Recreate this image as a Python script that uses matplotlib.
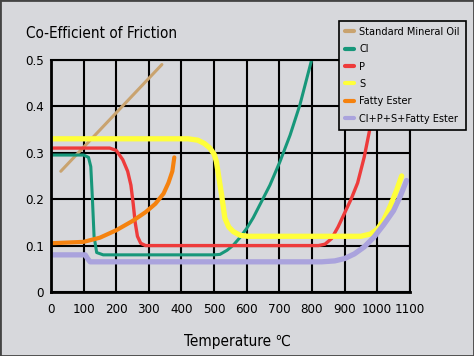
import matplotlib.pyplot as plt
from matplotlib.patches import Rectangle

# data
oil_x = [30, 340]
oil_y = [0.26, 0.49]

cl_x = [0, 100, 115, 122, 127, 132, 140, 160, 500, 518, 540, 559, 580, 600, 620, 640, 671, 702, 733, 763, 799]
cl_y = [0.295, 0.295, 0.29, 0.27, 0.2, 0.12, 0.085, 0.08, 0.08, 0.081, 0.09, 0.101, 0.118, 0.137, 0.16, 0.1875, 0.23, 0.281, 0.338, 0.403, 0.5]

p_x = [0, 180, 200, 220, 235, 245, 252, 258, 265, 275, 290, 820, 840, 860, 880, 900, 920, 940, 960, 980, 1000]
p_y = [0.31, 0.31, 0.305, 0.285, 0.26, 0.23, 0.19, 0.15, 0.12, 0.105, 0.1, 0.1, 0.103, 0.115, 0.14, 0.17, 0.2, 0.235, 0.29, 0.36, 0.45]

s_x = [0, 420, 450, 470, 487, 500, 507, 515, 523, 533, 545, 559, 580, 604, 950, 980, 1000, 1020, 1040, 1060, 1075]
s_y = [0.33, 0.33, 0.327, 0.32, 0.31, 0.297, 0.281, 0.245, 0.209, 0.159, 0.14, 0.13, 0.122, 0.12, 0.12, 0.125, 0.135, 0.155, 0.185, 0.22, 0.25]

fe_x = [0, 100, 150, 200, 250, 290, 320, 345, 360, 372, 378]
fe_y = [0.105, 0.108, 0.117, 0.133, 0.153, 0.172, 0.19, 0.212, 0.235, 0.26, 0.29]

mix_x = [0, 105, 112, 120, 830, 870, 900, 930, 960, 990, 1020, 1050, 1070, 1090]
mix_y = [0.08, 0.08, 0.072, 0.065, 0.065, 0.067, 0.072, 0.082, 0.097, 0.118, 0.145, 0.175, 0.205, 0.24]

xticks = list(range(0, 1200, 100))
yticks = [0, 0.1, 0.2, 0.3, 0.4, 0.5]
ytick_labels = ['0', '0.1', '0.2', '0.3', '0.4', '0.5']

bg = '#d7d8dc'
plt.rcParams['font.family'] = ['DejaVu Sans']
plt.rcParams['font.stretch'] = 'condensed'

fig = plt.figure(figsize=(4.74, 3.56), dpi=100, facecolor=bg)
fig.patches.append(Rectangle((0, 0), 1, 1, transform=fig.transFigure,
                             fill=False, edgecolor='#444444', linewidth=2))
ax = fig.add_axes([0.1076, 0.1798, 0.757, 0.652])
ax.set_facecolor(bg)

ax.plot(oil_x, oil_y, color='#c9a36f', lw=2.2, label='Standard Mineral Oil', solid_capstyle='round')
ax.plot(cl_x, cl_y, color='#17977a', lw=2.2, label='Cl', solid_capstyle='round')
ax.plot(p_x, p_y, color='#ee3b3b', lw=2.4, label='P', solid_capstyle='round')
ax.plot(s_x, s_y, color='#ffff3a', lw=3.8, label='S', solid_capstyle='round')
ax.plot(fe_x, fe_y, color='#f5820f', lw=3, label='Fatty Ester', solid_capstyle='round')
ax.plot(mix_x, mix_y, color='#aaa3dd', lw=3.8, label='Cl+P+S+Fatty Ester', solid_capstyle='round')

ax.set_xlim(0, 1100)
ax.set_ylim(0, 0.5)
ax.set_xticks(xticks)
ax.set_yticks(yticks)
ax.set_yticklabels(ytick_labels)
ax.tick_params(length=0, labelsize=9.5)
ax.tick_params(axis='x', pad=8)
ax.tick_params(axis='y', pad=5)
ax.grid(True, color='black', lw=1.5)
ax.set_axisbelow(True)
for sp in ax.spines.values():
    sp.set_color('black')
    sp.set_linewidth(1.5)
ax.spines['left'].set_linewidth(2)
ax.spines['bottom'].set_linewidth(2)

fig.text(0.055, 0.905, 'Co-Efficient of Friction', fontsize=11, va='center')
fig.text(0.5, 0.042, 'Temperature \u2103', fontsize=11, ha='center', va='center')

leg = ax.legend(loc='upper right', bbox_to_anchor=(0.983, 0.941),
                bbox_transform=fig.transFigure, fontsize=7.8, frameon=True,
                fancybox=False, edgecolor='black', facecolor=bg, framealpha=1,
                handlelength=0.8, handletextpad=0.5, labelspacing=0.68,
                borderpad=0.55, borderaxespad=0)
leg.get_frame().set_linewidth(1.2)
leg.set_zorder(10)
for h in leg.get_lines():
    h.set_linewidth(3)

fig.savefig('out.png', dpi=100, facecolor=bg)
